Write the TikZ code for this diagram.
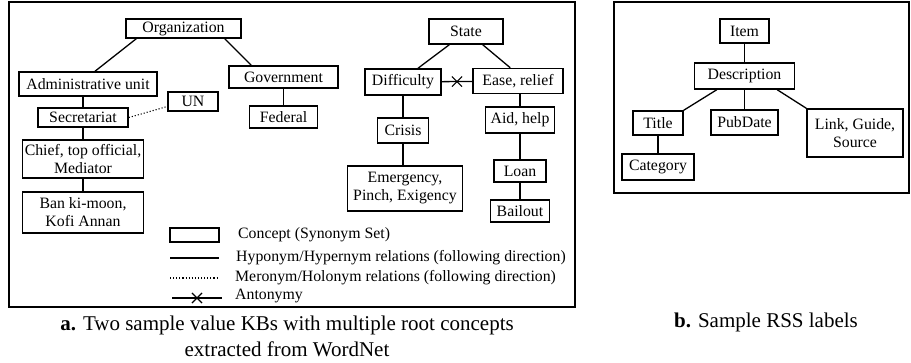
\documentclass[tikz,border=0pt]{standalone}
\usepackage{fontspec}
\setmainfont{Liberation Serif}
\usetikzlibrary{shapes.misc,calc,positioning}
\tikzset{
    concept/.style={rectangle, draw, line width=1.5pt, inner sep=0pt, align=center,
        font=\fontsize{15.8}{18}\selectfont},
    rel/.style={line width=1.3pt},
    meronym/.style={line width=1.1pt, dotted},
    xmark/.style={cross out, draw, line width=1.1pt, minimum size=9pt, inner sep=0pt},
    frame/.style={line width=1.3pt},
    legtext/.style={anchor=west, inner sep=0pt, font=\fontsize{15.8}{18}\selectfont},
    capt/.style={align=center, inner sep=0pt, font=\fontsize{21}{26}\selectfont}
}

\begin{document}
\begin{tikzpicture}[x=1pt,y=-1pt]
    \useasboundingbox (0,0) rectangle (911,362);

    % frames
    \draw[frame] (9,2) rectangle (575,307);
    \draw[frame] (614,2) rectangle (909,193);

    % KB: Organization
    \node[concept, minimum width=115, minimum height=19] (org) at (183.5,28.5) {Organization};
    \node[concept, minimum width=138, minimum height=24] (admin) at (88,84) {Administrative unit};
    \node[concept, minimum width=109, minimum height=22] (gov) at (283.5,77) {Government};
    \node[concept, minimum width=68, minimum height=22] (fed) at (283.5,117) {Federal};
    \node[concept, minimum width=90, minimum height=19] (secr) at (83,117.5) {Secretariat};
    \node[concept, minimum width=50, minimum height=19] (un) at (193,101.5) {UN};
    \node[concept, minimum width=121, minimum height=38] (chief) at (83,159) {Chief, top official,\\Mediator};
    \node[concept, minimum width=121, minimum height=41] (ban) at (83,212.5) {Ban ki-moon,\\Kofi Annan};

    \draw[rel] ([xshift=11]org.south west) -- ([xshift=7]admin.north);
    \draw[rel] ([xshift=-17]org.south east) -- ([xshift=23]gov.north west);
    \draw[rel] (gov) -- (fed);
    \draw[rel] (secr.north) -- (secr.north |- admin.south);
    \draw[rel] (secr) -- (chief);
    \draw[rel] (chief) -- (ban);
    \draw[meronym] (secr.east) -- ([yshift=-5]un.west);

    % KB: State
    \node[concept, minimum width=74, minimum height=25] (state) at (466,31.5) {State};
    \node[concept, minimum width=76, minimum height=26] (diff) at (403,82) {Difficulty};
    \node[concept, minimum width=90, minimum height=25] (ease) at (518,81) {Ease, relief};
    \node[concept, minimum width=51, minimum height=25] (crisis) at (403,130.5) {Crisis};
    \node[concept, minimum width=115, minimum height=45] (emerg) at (405,188.5) {Emergency,\\Pinch, Exigency};
    \node[concept, minimum width=69, minimum height=26] (aid) at (520,120) {Aid, help};
    \node[concept, minimum width=52, minimum height=22] (loan) at (520,171) {Loan};
    \node[concept, minimum width=59, minimum height=22] (bail) at (520,211) {Bailout};

    \draw[rel] ([xshift=21]state.south west) -- ([xshift=15]diff.north);
    \draw[rel] ([xshift=-21]state.south east) -- ([xshift=38]ease.north west);
    \draw[rel] (diff) -- node[xmark]{} (ease);
    \draw[rel] (diff) -- (crisis);
    \draw[rel] (crisis) -- (crisis |- emerg.north);
    \draw[rel] (ease.south -| aid) -- (aid);
    \draw[rel] (aid) -- (loan);
    \draw[rel] (loan) -- (bail);

    % legend
    \node[concept, minimum width=49, minimum height=14] (lgbox) at (194.5,235) {};
    \node[legtext] (lgconcept) at (238,235) {Concept (Synonym Set)};
    \coordinate (hypa) at (170,258);
    \coordinate (hypb) at (219,258);
    \node[legtext] (lghypo) at (236,258) {Hyponym/Hypernym relations (following direction)};
    \coordinate (mera) at (170,278);
    \coordinate (merb) at (217,278);
    \node[legtext] (lgmero) at (235,278) {Meronym/Holonym relations (following direction)};
    \coordinate (anta) at (172,298);
    \coordinate (antb) at (222,298);
    \node[legtext] (lganto) at (235,296) {Antonymy};
    \draw[rel] (hypa) -- (hypb);
    \draw[meronym] (mera) -- (merb);
    \draw[rel] (anta) -- node[xmark]{} (antb);

    % RSS labels
    \node[concept, minimum width=49, minimum height=24] (item) at (744.5,31) {Item};
    \node[concept, minimum width=100, minimum height=26] (desc) at (744.5,76) {Description};
    \node[concept, minimum width=50, minimum height=24] (title) at (658,123) {Title};
    \node[concept, minimum width=72, minimum height=26] (categ) at (658,167) {Category};
    \node[concept, minimum width=67, minimum height=25] (pubd) at (744.5,122.5) {PubDate};
    \node[concept, minimum width=96, minimum height=48] (link) at (855,133) {Link, Guide,\\Source};

    \draw[rel] (item) -- (desc);
    \draw[rel] ([xshift=23]desc.south west) -- (title.north east);
    \draw[rel] (desc) -- (pubd);
    \draw[rel] ([xshift=-18]desc.south east) -- (link.north west);
    \draw[rel] (title) -- (categ);

    % captions
    \node[capt] (capa) at (287,336) {\textbf{a.} Two sample value KBs with multiple root concepts\\extracted from WordNet};
    \node[capt] (capb) at (766,322) {\textbf{b.} Sample RSS labels};
\end{tikzpicture}
\end{document}
